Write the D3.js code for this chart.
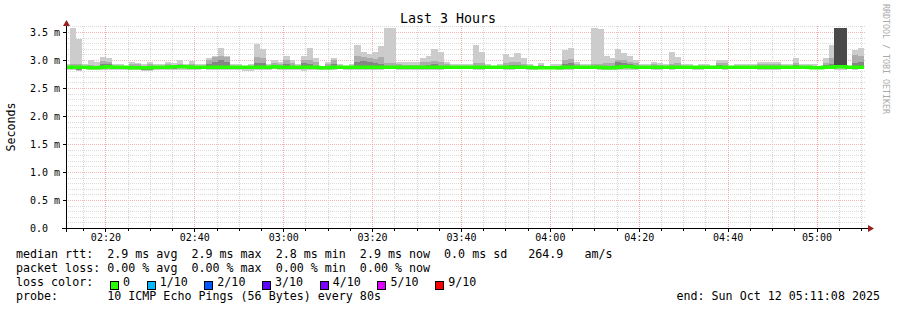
<!DOCTYPE html>
<html>
<head>
<meta charset="utf-8">
<script src="https://cdn.jsdelivr.net/npm/d3@7"></script>
<style>
body { margin: 0; background: #fff; }
svg { display: block; font-family: "DejaVu Sans Mono", monospace; }
text { white-space: pre; }
</style>
</head>
<body>
<svg></svg>
<script>
"use strict";

// one entry per 80s step (first one is the partial step at the left edge)
var pingMax = [2.92,
    3.57, 3.37, 2.92, 3.00, 2.97, 3.06, 3.03, 2.93, 2.92, 2.88,
    2.97, 2.95, 2.92, 2.96, 2.92, 2.92, 2.96, 2.95, 3.00, 2.92,
    2.98, 2.93, 2.92, 3.04, 3.08, 3.22, 3.08, 2.93, 2.92, 2.88,
    2.92, 3.29, 3.19, 2.93, 3.00, 2.97, 3.08, 3.00, 2.92, 3.07,
    3.22, 3.03, 2.90, 2.96, 3.03, 2.92, 2.90, 2.92, 3.26, 3.14,
    3.10, 3.15, 3.25, 3.57, 3.57, 2.96, 2.96, 2.96, 2.96, 3.03,
    3.07, 3.19, 3.14, 2.97, 2.93, 2.92, 2.92, 2.92, 3.27, 3.15,
    2.92, 2.90, 2.92, 3.11, 3.06, 3.12, 3.03, 2.93, 2.90, 2.95,
    2.90, 2.93, 2.93, 3.17, 3.22, 2.97, 2.92, 2.92, 3.57, 3.55,
    3.08, 3.04, 3.19, 3.13, 3.08, 3.00, 2.93, 2.92, 2.97, 2.95,
    2.92, 3.14, 3.06, 2.93, 2.92, 2.90, 2.93, 2.92, 2.90, 3.00,
    3.00, 2.88, 2.92, 2.93, 2.92, 2.92, 2.96, 2.96, 2.97, 2.97,
    2.92, 2.93, 3.03, 2.92, 2.93, 2.93, 2.90, 3.03, 3.26, 3.57,
    3.57, 2.90, 3.18, 3.21];

var pingHigh = [2.90,
    2.93, 2.92, 2.90, 2.91, 2.90, 2.98, 2.96, 2.90, 2.90, 2.88,
    2.93, 2.93, 2.90, 2.92, 2.90, 2.90, 2.92, 2.91, 2.93, 2.90,
    2.93, 2.90, 2.90, 3.00, 3.05, 3.08, 3.05, 2.90, 2.90, 2.88,
    2.90, 3.06, 3.04, 2.90, 2.95, 2.92, 3.00, 2.95, 2.90, 3.00,
    3.00, 2.96, 2.89, 2.92, 3.00, 2.90, 2.89, 2.90, 3.07, 3.05,
    3.04, 3.02, 3.05, 2.95, 2.94, 2.92, 2.91, 2.91, 2.91, 2.96,
    2.97, 2.98, 2.96, 2.92, 2.90, 2.90, 2.90, 2.90, 2.95, 2.94,
    2.90, 2.89, 2.90, 2.95, 2.96, 2.96, 2.93, 2.90, 2.89, 2.91,
    2.89, 2.90, 2.90, 3.00, 3.02, 2.92, 2.90, 2.90, 2.93, 2.92,
    2.95, 2.94, 3.00, 3.00, 2.97, 2.94, 2.90, 2.90, 2.92, 2.91,
    2.90, 2.93, 2.94, 2.90, 2.90, 2.89, 2.90, 2.90, 2.89, 2.95,
    2.94, 2.88, 2.90, 2.90, 2.90, 2.90, 2.92, 2.92, 2.93, 2.92,
    2.90, 2.90, 2.95, 2.90, 2.90, 2.90, 2.89, 2.95, 3.04, 3.57,
    3.57, 2.89, 3.09, 3.08];

var coreTop = [2.88,
    2.89, 2.88, 2.88, 2.88, 2.88, 2.93, 2.92, 2.88, 2.88, 2.87,
    2.89, 2.89, 2.88, 2.88, 2.88, 2.88, 2.88, 2.88, 2.89, 2.88,
    2.89, 2.88, 2.88, 2.93, 2.96, 3.00, 2.97, 2.88, 2.88, 2.87,
    2.88, 2.95, 2.95, 2.88, 2.90, 2.88, 2.93, 2.90, 2.88, 2.94,
    2.92, 2.90, 2.87, 2.88, 2.93, 2.88, 2.87, 2.88, 2.97, 2.98,
    2.96, 2.95, 2.93, 2.89, 2.89, 2.88, 2.88, 2.88, 2.88, 2.90,
    2.91, 2.92, 2.90, 2.88, 2.88, 2.88, 2.88, 2.88, 2.90, 2.89,
    2.88, 2.87, 2.88, 2.90, 2.91, 2.91, 2.89, 2.88, 2.87, 2.88,
    2.87, 2.88, 2.88, 2.93, 2.94, 2.89, 2.88, 2.88, 2.89, 2.89,
    2.90, 2.90, 2.96, 2.94, 2.92, 2.90, 2.88, 2.88, 2.89, 2.88,
    2.88, 2.89, 2.90, 2.88, 2.88, 2.87, 2.88, 2.88, 2.87, 2.91,
    2.90, 2.87, 2.88, 2.88, 2.88, 2.88, 2.89, 2.89, 2.89, 2.89,
    2.88, 2.88, 2.91, 2.88, 2.88, 2.88, 2.87, 2.91, 2.92, 3.57,
    3.57, 2.87, 2.95, 2.96];

var pingLow = [2.85,
    2.84, 2.83, 2.85, 2.84, 2.84, 2.85, 2.85, 2.85, 2.85, 2.85,
    2.84, 2.84, 2.83, 2.83, 2.84, 2.85, 2.85, 2.84, 2.85, 2.85,
    2.84, 2.85, 2.85, 2.85, 2.85, 2.85, 2.85, 2.85, 2.84, 2.84,
    2.84, 2.84, 2.84, 2.85, 2.85, 2.84, 2.85, 2.85, 2.85, 2.84,
    2.84, 2.85, 2.84, 2.84, 2.85, 2.85, 2.85, 2.85, 2.84, 2.84,
    2.85, 2.85, 2.84, 2.85, 2.85, 2.85, 2.85, 2.84, 2.84, 2.85,
    2.84, 2.85, 2.85, 2.85, 2.85, 2.85, 2.85, 2.85, 2.85, 2.85,
    2.85, 2.85, 2.85, 2.85, 2.85, 2.85, 2.85, 2.84, 2.84, 2.85,
    2.85, 2.85, 2.85, 2.85, 2.85, 2.85, 2.85, 2.85, 2.85, 2.85,
    2.84, 2.84, 2.85, 2.85, 2.85, 2.85, 2.85, 2.85, 2.85, 2.85,
    2.85, 2.85, 2.85, 2.85, 2.85, 2.84, 2.84, 2.85, 2.85, 2.85,
    2.85, 2.85, 2.85, 2.85, 2.85, 2.85, 2.84, 2.84, 2.84, 2.84,
    2.85, 2.85, 2.85, 2.85, 2.85, 2.85, 2.85, 2.85, 2.85, 2.90,
    2.90, 2.85, 2.85, 2.85];

var pingMin = [2.82,
    2.82, 2.80, 2.84, 2.83, 2.83, 2.83, 2.83, 2.83, 2.83, 2.83,
    2.82, 2.82, 2.80, 2.80, 2.82, 2.83, 2.83, 2.82, 2.83, 2.83,
    2.82, 2.83, 2.84, 2.83, 2.83, 2.83, 2.83, 2.83, 2.82, 2.81,
    2.81, 2.82, 2.82, 2.83, 2.84, 2.82, 2.83, 2.83, 2.83, 2.81,
    2.82, 2.83, 2.83, 2.82, 2.83, 2.84, 2.83, 2.83, 2.82, 2.82,
    2.83, 2.83, 2.82, 2.84, 2.84, 2.83, 2.83, 2.82, 2.82, 2.83,
    2.82, 2.83, 2.83, 2.84, 2.84, 2.84, 2.84, 2.84, 2.83, 2.83,
    2.84, 2.84, 2.84, 2.83, 2.83, 2.84, 2.84, 2.82, 2.83, 2.84,
    2.84, 2.84, 2.83, 2.83, 2.83, 2.84, 2.84, 2.84, 2.84, 2.83,
    2.82, 2.82, 2.83, 2.83, 2.83, 2.83, 2.84, 2.84, 2.83, 2.83,
    2.84, 2.83, 2.84, 2.84, 2.84, 2.82, 2.82, 2.84, 2.84, 2.84,
    2.83, 2.84, 2.84, 2.84, 2.84, 2.84, 2.82, 2.83, 2.82, 2.82,
    2.84, 2.84, 2.84, 2.84, 2.84, 2.84, 2.84, 2.84, 2.84, 2.83,
    2.83, 2.84, 2.83, 2.84];

var median = [2.87,
    2.87, 2.87, 2.87, 2.86, 2.86, 2.87, 2.88, 2.87, 2.87, 2.87,
    2.86, 2.86, 2.86, 2.86, 2.87, 2.87, 2.87, 2.88, 2.88, 2.88,
    2.87, 2.87, 2.87, 2.87, 2.87, 2.87, 2.87, 2.87, 2.87, 2.87,
    2.87, 2.87, 2.87, 2.87, 2.88, 2.87, 2.87, 2.87, 2.87, 2.87,
    2.87, 2.87, 2.86, 2.86, 2.87, 2.87, 2.87, 2.87, 2.87, 2.87,
    2.87, 2.87, 2.87, 2.87, 2.87, 2.87, 2.87, 2.87, 2.87, 2.87,
    2.87, 2.87, 2.87, 2.87, 2.87, 2.87, 2.87, 2.87, 2.87, 2.87,
    2.87, 2.87, 2.87, 2.87, 2.87, 2.87, 2.87, 2.87, 2.86, 2.86,
    2.86, 2.86, 2.86, 2.87, 2.87, 2.87, 2.87, 2.87, 2.87, 2.87,
    2.86, 2.86, 2.87, 2.88, 2.88, 2.87, 2.87, 2.87, 2.87, 2.87,
    2.87, 2.87, 2.87, 2.87, 2.87, 2.87, 2.87, 2.87, 2.87, 2.87,
    2.87, 2.87, 2.87, 2.87, 2.87, 2.87, 2.87, 2.87, 2.87, 2.87,
    2.87, 2.87, 2.87, 2.87, 2.87, 2.86, 2.86, 2.87, 2.87, 2.88,
    2.88, 2.87, 2.87, 2.87];

// innermost pair of pings, only where it sticks out: [step index, low, high]
var innerSpans = [[130, 2.90, 3.57], [131, 2.90, 3.57]];

var yTickValues = [0, 0.5, 1.0, 1.5, 2.0, 2.5, 3.0, 3.5];
var lossLabels = ["0", "1/10", "2/10", "3/10", "4/10", "5/10", "9/10"];
var lossColors = ["#26ff00", "#00b8ff", "#0059ff", "#5e00ff", "#7e00ff", "#dd00ff", "#ff0000"];

var legendLines = [
    "median rtt:  2.9 ms avg  2.9 ms max  2.8 ms min  2.9 ms now  0.0 ms sd   264.9   am/s",
    "packet loss: 0.00 % avg  0.00 % max  0.00 % min  0.00 % now",
    "loss color:",
    "probe:       10 ICMP Echo Pings (56 Bytes) every 80s"
];

var width = 897,
    height = 310;
var plotLeft = 66, plotRight = 866, plotTop = 26.4, plotBottom = 228;

var startTime = new Date(2025, 9, 12, 2, 11, 8);
var endTime = new Date(2025, 9, 12, 5, 11, 8);
var firstStep = new Date(2025, 9, 12, 2, 10, 42);
var stepMs = 80 * 1000;

function stepStart(i) { return new Date(+firstStep + i * stepMs); }
function stepEnd(i) { return new Date(+firstStep + (i + 1) * stepMs); }

var x = d3.scaleTime().domain([startTime, endTime]).range([plotLeft, plotRight]);
var y = d3.scaleLinear().domain([0, 3.6]).range([plotBottom, plotTop]);

var svg = d3.select("svg")
    .attr("width", width)
    .attr("height", height);

svg.append("rect").attr("width", width).attr("height", height).attr("fill", "#fff");

svg.append("clipPath").attr("id", "plot")
    .append("rect")
    .attr("x", plotLeft).attr("y", plotTop - 2)
    .attr("width", plotRight - plotLeft).attr("height", plotBottom - plotTop + 2);

function px(v) { return Math.round(v) + 0.5; }

// grid
var grid = svg.append("g").attr("stroke-dasharray", "1,1").attr("stroke-width", 1)
    .attr("shape-rendering", "crispEdges");

grid.selectAll(".hminor")
    .data(y.ticks(36).filter(function (v) { return v > 0 && Math.round(v * 10) % 5 !== 0; }))
    .enter().append("line")
    .attr("x1", plotLeft).attr("x2", plotRight)
    .attr("y1", function (d) { return px(y(d)); })
    .attr("y2", function (d) { return px(y(d)); })
    .attr("stroke", "#dadada");

grid.selectAll(".vminor")
    .data(x.ticks(d3.timeMinute.every(5)).filter(function (d) { return d.getMinutes() % 20 !== 0; }))
    .enter().append("line")
    .attr("x1", function (d) { return px(x(d)); })
    .attr("x2", function (d) { return px(x(d)); })
    .attr("y1", plotTop).attr("y2", plotBottom)
    .attr("stroke", "#d4d4d4");

grid.selectAll(".hmajor")
    .data(yTickValues.filter(function (v) { return v > 0; }))
    .enter().append("line")
    .attr("x1", plotLeft).attr("x2", plotRight)
    .attr("y1", function (d) { return px(y(d)); })
    .attr("y2", function (d) { return px(y(d)); })
    .attr("stroke", "#f4b8b8");

grid.selectAll(".vmajor")
    .data(x.ticks(d3.timeMinute.every(20)))
    .enter().append("line")
    .attr("x1", function (d) { return px(x(d)); })
    .attr("x2", function (d) { return px(x(d)); })
    .attr("y1", plotTop).attr("y2", plotBottom)
    .attr("stroke", "#f4a8a8");

// smoke
var smoke = svg.append("g").attr("clip-path", "url(#plot)").attr("shape-rendering", "crispEdges");

function drawLayer(top, bottom, color) {
    smoke.append("g").selectAll("rect")
        .data(top)
        .enter().append("rect")
        .attr("x", function (d, i) { return x(stepStart(i)); })
        .attr("width", function (d, i) { return x(stepEnd(i)) - x(stepStart(i)) + 0.3; })
        .attr("y", function (d) { return y(d); })
        .attr("height", function (d, i) { return Math.max(0, y(bottom[i]) - y(d)); })
        .attr("fill", color);
}

drawLayer(pingMax, pingMin, "#cccccc");
drawLayer(pingHigh, pingLow, "#acacac");
drawLayer(coreTop, pingLow, "#858585");

smoke.append("g").selectAll("rect")
    .data(innerSpans)
    .enter().append("rect")
    .attr("x", function (d) { return x(stepStart(d[0])); })
    .attr("width", function (d) { return x(stepEnd(d[0])) - x(stepStart(d[0])) + 0.3; })
    .attr("y", function (d) { return y(d[2]); })
    .attr("height", function (d) { return y(d[1]) - y(d[2]); })
    .attr("fill", "#4a4a4a");

// median line
var medianPoints = median.map(function (d, i) { return [stepStart(i), d]; });
medianPoints.push([stepEnd(median.length - 1), median[median.length - 1]]);

svg.append("path")
    .datum(medianPoints)
    .attr("clip-path", "url(#plot)")
    .attr("fill", "none")
    .attr("stroke", lossColors[0])
    .attr("stroke-width", 3.5)
    .attr("d", d3.line()
        .curve(d3.curveStepAfter)
        .x(function (d) { return x(d[0]); })
        .y(function (d) { return y(d[1]); }));

// axes
var axes = svg.append("g").attr("shape-rendering", "crispEdges");

axes.append("line")
    .attr("x1", plotLeft - 4).attr("x2", plotRight + 2)
    .attr("y1", plotBottom + 0.5).attr("y2", plotBottom + 0.5)
    .attr("stroke", "#000");

axes.append("line")
    .attr("x1", plotLeft + 0.5).attr("x2", plotLeft + 0.5)
    .attr("y1", plotBottom + 4).attr("y2", 24)
    .attr("stroke", "#000");

axes.selectAll(".ytick")
    .data(yTickValues)
    .enter().append("line")
    .attr("x1", plotLeft - 3).attr("x2", plotLeft)
    .attr("y1", function (d) { return px(y(d)); })
    .attr("y2", function (d) { return px(y(d)); })
    .attr("stroke", "#000");

axes.selectAll(".xtick")
    .data(x.ticks(d3.timeMinute.every(5)))
    .enter().append("line")
    .attr("x1", function (d) { return px(x(d)); })
    .attr("x2", function (d) { return px(x(d)); })
    .attr("y1", plotBottom)
    .attr("y2", function (d) { return plotBottom + (d.getMinutes() % 20 === 0 ? 4 : 3); })
    .attr("stroke", "#000");

// arrows
svg.append("path")
    .attr("d", "M" + (plotRight + 2) + "," + (plotBottom - 3) + "L" + (plotRight + 8) + "," + (plotBottom + 0.5) +
        "L" + (plotRight + 2) + "," + (plotBottom + 4) + "Z")
    .attr("fill", "#9a1f1f");
svg.append("path")
    .attr("d", "M" + (plotLeft - 3) + ",26L" + (plotLeft + 0.5) + ",20L" + (plotLeft + 4) + ",26Z")
    .attr("fill", "#9a1f1f");

// tick labels
var xAxis = svg.append("g")
    .attr("transform", "translate(0," + plotBottom + ")")
    .call(d3.axisBottom(x)
        .ticks(d3.timeMinute.every(20))
        .tickFormat(d3.timeFormat("%H:%M"))
        .tickSize(0)
        .tickPadding(6));
xAxis.select(".domain").remove();
xAxis.selectAll("text")
    .attr("font-family", "DejaVu Sans Mono")
    .attr("font-size", 10)
    .attr("fill", "#000");

var yAxis = svg.append("g")
    .attr("transform", "translate(" + plotLeft + ",0)")
    .call(d3.axisLeft(y)
        .tickValues(yTickValues)
        .tickFormat(function (d) { return d === 0 ? "0.0" : d3.format(".1f")(d) + " m"; })
        .tickSize(0));
yAxis.select(".domain").remove();
yAxis.selectAll("text")
    .attr("font-family", "DejaVu Sans Mono")
    .attr("font-size", 10)
    .attr("fill", "#000")
    .attr("text-anchor", "start")
    .attr("x", 30 - plotLeft);

// titles
svg.append("text")
    .attr("x", 448).attr("y", 23)
    .attr("text-anchor", "middle")
    .attr("font-size", 13.3)
    .text("Last 3 Hours");

svg.append("text")
    .attr("transform", "translate(15,127) rotate(-90)")
    .attr("text-anchor", "middle")
    .attr("font-size", 11.6)
    .text("Seconds");

svg.append("text")
    .attr("transform", "translate(883,4) rotate(90)")
    .attr("font-size", 8.3)
    .attr("fill", "#aaaaaa")
    .text("RRDTOOL / TOBI OETIKER");

// legend
var legendSize = 11.67,
    charW = legendSize * 0.6021;

svg.selectAll(".legend")
    .data(legendLines)
    .enter().append("text")
    .attr("x", 16)
    .attr("y", function (d, i) { return 258 + i * 14; })
    .attr("font-size", legendSize)
    .text(function (d) { return d; });

var bx = 110;
lossLabels.forEach(function (label, i) {
    svg.append("rect")
        .attr("x", Math.round(bx) + 0.5).attr("y", 281.5)
        .attr("width", 8).attr("height", 8)
        .attr("fill", lossColors[i])
        .attr("stroke", "#000")
        .attr("shape-rendering", "crispEdges");
    svg.append("text")
        .attr("x", bx + 13).attr("y", 286)
        .attr("font-size", legendSize)
        .text(label);
    bx += 13 + label.length * charW + 16.6;
});

svg.append("text")
    .attr("x", 880).attr("y", 300)
    .attr("text-anchor", "end")
    .attr("font-size", legendSize)
    .text("end: " + d3.timeFormat("%a %b %d %H:%M:%S %Y")(endTime));
</script>
</body>
</html>
